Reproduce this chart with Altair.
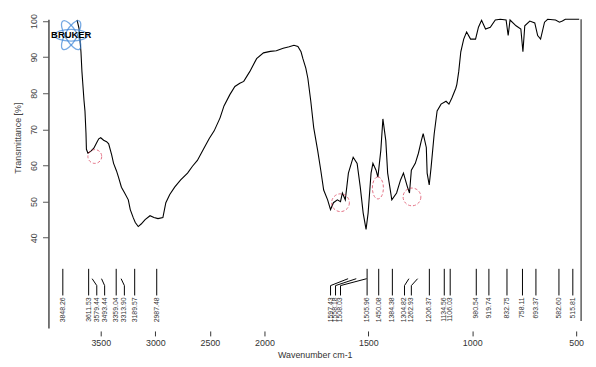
import altair as alt
import pandas as pd

# ---- spectrum (wavenumber cm-1, transmittance %) ----
wavenumber = [3718, 3700, 3682, 3673, 3654, 3645, 3636, 3632, 3618, 3591, 3564, 3537, 3519, 3501,
              3474, 3447, 3428, 3401, 3383, 3356, 3338, 3311, 3284, 3248, 3230, 3202, 3184, 3157,
              3130, 3094, 3049, 3013, 2976, 2931, 2904, 2868, 2823, 2768, 2705, 2660, 2615, 2551,
              2506, 2461, 2407, 2371, 2316, 2271, 2226, 2190, 2135, 2072, 2009,
              1972, 1943, 1910, 1881, 1858, 1839, 1824, 1815, 1801, 1791, 1777, 1763, 1744, 1729,
              1715, 1696, 1682, 1668, 1649, 1634, 1625, 1611, 1596, 1573, 1554, 1539, 1525, 1511,
              1501, 1487, 1478, 1463, 1454, 1440, 1430, 1416, 1407, 1387, 1364, 1345, 1331, 1312,
              1302, 1293, 1274, 1259, 1245, 1236, 1221, 1217, 1207, 1198, 1183, 1169, 1150, 1126,
              1112, 1098, 1079, 1074, 1065, 1055, 1041, 1027, 1008, 984, 970, 955, 936, 913, 889,
              865, 837, 827, 818, 789, 766, 756, 747, 723, 699, 685, 671, 652, 637, 599, 580, 566,
              552, 519, 485]
transmittance = [100.3, 98, 91.5, 86, 78, 75, 69, 64.5, 63.4, 64, 64.8, 66.4, 67.4, 67.7,
                 67, 66.6, 66, 63, 60.6, 58.5, 56.8, 54, 52.5, 50.5, 47.8, 45.5, 44.2, 43.1,
                 43.8, 45, 46.1, 45.6, 45.3, 45.6, 49.7, 52, 54, 56, 57.9, 59.8, 61.4, 65,
                 67.5, 69.6, 73.2, 76.5, 79.7, 81.9, 82.8, 83.3, 86, 89.6, 91.2,
                 91.6, 91.8, 92.5, 92.9, 93.3, 93, 91.5, 89.6, 87, 84.1, 77.8, 70.5, 64.2, 58.7,
                 53.2, 50.5, 47.8, 49.7, 50.5, 50, 52.4, 50.5, 57.9, 62.3, 60.6, 54.1, 46.9, 42.3,
                 46.9, 57.9, 60.6, 58.7, 56.8, 64.2, 72.9, 66.9, 57.9, 50.5, 52.4, 56, 57.9, 54.1,
                 52.4, 58.7, 60.6, 63.4, 66.9, 68.8, 65, 57.9, 54.6, 59.5, 68.8, 75.1, 77, 77.8,
                 77, 78.7, 81.4, 82.5, 86, 91.5, 95, 97, 95, 95, 98.3, 100.2, 97.8, 98.3, 100.3,
                 100.5, 100.3, 96, 100.3, 98.7, 97.8, 91.5, 98.7, 100, 99.5, 96, 95, 99.7, 100.5,
                 100.3, 99.7, 100, 100.5, 100.5, 100.5]

# ---- peak picking labels ----
peak_wn = [3848.26, 3611.53, 3579.44, 3493.44, 3359.04, 3313.90, 3189.57, 2987.48,
           1597.43, 1558.18, 1508.03, 1505.96, 1450.08, 1384.38, 1304.82, 1262.93, 1206.37,
           1134.56, 1106.03, 980.54, 919.74, 832.75, 758.11, 693.37, 582.60, 515.81]
label_wn = [3848.26, 3611.53, 3537, 3465, 3359.04, 3284, 3189.57, 2987.48,
            1682, 1658, 1634, 1505.96, 1450.08, 1384.38, 1326, 1293, 1206.37,
            1134.56, 1106.03, 980.54, 919.74, 832.75, 758.11, 693.37, 582.60, 515.81]
peak_text = ["3848.26", "3611.53", "3579.44", "3493.44", "3359.04", "3313.90", "3189.57", "2987.48",
             "1597.43", "1558.18", "1508.03", "1505.96", "1450.08", "1384.38", "1304.82", "1262.93",
             "1206.37", "1134.56", "1106.03", "980.54", "919.74", "832.75", "758.11", "693.37",
             "582.60", "515.81"]

# ---- red hand-drawn circles ----
circle_wn = [3555, 1634, 1290]
circle_t = [62.5, 49.7, 51.3]
circle_size = [196, 324, 324]
oval_wn = [1454]
oval_t = [53.8]

# ---- logo ----
logo_wn = [3772]
logo_t = [96.1]
logo_angles = [0, 60, 120]

x_ticks = [3500, 3000, 2500, 2000, 1500, 1000, 500]
y_ticks = [40, 50, 60, 70, 80, 90, 100]

W, H = 540, 313
FONT = "Liberation Sans"

xscale = alt.Scale(domain=[3980, 2000, 476], range=[0, 219, W])
yscale = alt.Scale(domain=[15, 100.5], nice=False, zero=False)

spec = pd.DataFrame({"wn": wavenumber, "t": transmittance})
peaks = pd.DataFrame({"wn": peak_wn, "lwn": label_wn, "txt": peak_text})
peaks["shift"] = (peaks["wn"] - peaks["lwn"]).abs() > 0.5
straight = peaks[~peaks["shift"]]
shifted = peaks[peaks["shift"]]
circles = pd.DataFrame({"wn": circle_wn, "t": circle_t, "s": circle_size})
ovals = pd.DataFrame({"wn": oval_wn, "t": oval_t})
logo = pd.DataFrame({"wn": logo_wn, "t": logo_t})

xaxis = alt.Axis(values=x_ticks, format="d", domain=False, grid=False, tickSize=5, offset=3,
                 labelFontSize=9, labelColor="#333", tickColor="#333", labelFont=FONT,
                 title="Wavenumber cm-1", titleFontSize=9, titleFontWeight="normal",
                 titleColor="#333", titleFont=FONT, titlePadding=3, labelPadding=3)
yaxis = alt.Axis(values=y_ticks, grid=False, domain=True, domainColor="#555", domainWidth=1.6,
                 tickSize=6, tickColor="#555", labelAngle=270, labelAlign="center",
                 labelBaseline="bottom", labelPadding=4, labelFontSize=9, labelColor="#444",
                 labelFont=FONT, title="Transmittance [%]", titleFontSize=9,
                 titleFontWeight="normal", titleColor="#444", titleFont=FONT, titleAngle=270,
                 titleX=-31, titleY=120, titleAlign="center", titleBaseline="middle")


def X(field):
    return alt.X(field, type="quantitative", scale=xscale, axis=xaxis, title="Wavenumber cm-1")


def Y(field):
    return alt.Y(field, type="quantitative", scale=yscale, axis=yaxis, title="Transmittance [%]")


line = alt.Chart(spec).mark_line(color="black", strokeWidth=1.1).encode(
    x=X("wn"), y=Y("t"), order=alt.Order("wn:Q", sort="descending"),
)

red_circles = alt.Chart(circles).mark_point(
    shape="circle", filled=False, color="#d8334f", strokeWidth=1, strokeDash=[3, 2]
).encode(x=X("wn"), y=Y("t"), size=alt.Size("s:Q", scale=None, legend=None))

red_oval = alt.Chart(ovals).mark_point(
    shape="M0,-1A0.5,1,0,1,1,0,1A0.5,1,0,1,1,0,-1Z", filled=False, color="#d8334f",
    strokeWidth=1, strokeDash=[3, 2], size=500
).encode(x=X("wn"), y=Y("t"))

logo_layers = [
    alt.Chart(logo).mark_point(
        shape="M-1,0A1,0.36,0,1,1,1,0A1,0.36,0,1,1,-1,0Z", filled=False, color="#3d86d8",
        strokeWidth=1.3, size=1100, angle=a
    ).encode(x=X("wn"), y=Y("t"))
    for a in logo_angles
]
logo_text = alt.Chart(logo).mark_text(
    text="BRUKER", font=FONT, fontWeight="bold", fontSize=9.5, color="black"
).encode(x=X("wn"), y=Y("t"))

straight_rules = alt.Chart(straight).mark_rule(color="black", strokeWidth=1).encode(
    x=X("wn"), y=alt.value(253), y2=alt.value(280))
shift_diag = alt.Chart(shifted).mark_rule(color="black", strokeWidth=1).encode(
    x=X("wn"), x2="lwn:Q", y=alt.value(263), y2=alt.value(270))
shift_vert = alt.Chart(shifted).mark_rule(color="black", strokeWidth=1).encode(
    x=X("lwn"), y=alt.value(270), y2=alt.value(280))
peak_labels = alt.Chart(peaks).mark_text(
    angle=270, align="right", baseline="middle", fontSize=7, font=FONT, color="#333"
).encode(x=X("lwn"), y=alt.value(282), text="txt:N")

right_border = alt.Chart(logo).mark_rule(color="#333", strokeWidth=1.2).encode(
    x=alt.value(W), y=alt.value(0), y2=alt.value(306))

chart = alt.layer(
    line, red_circles, red_oval, *logo_layers, logo_text,
    straight_rules, shift_diag, shift_vert, peak_labels, right_border
).properties(
    width=W, height=H,
    autosize=alt.AutoSizeParams(type="none"),
    padding={"left": 41, "top": 9, "right": 7, "bottom": 30},
).configure_view(strokeWidth=0)

chart.save("out.html", embed_options={"renderer": "svg", "actions": False})
